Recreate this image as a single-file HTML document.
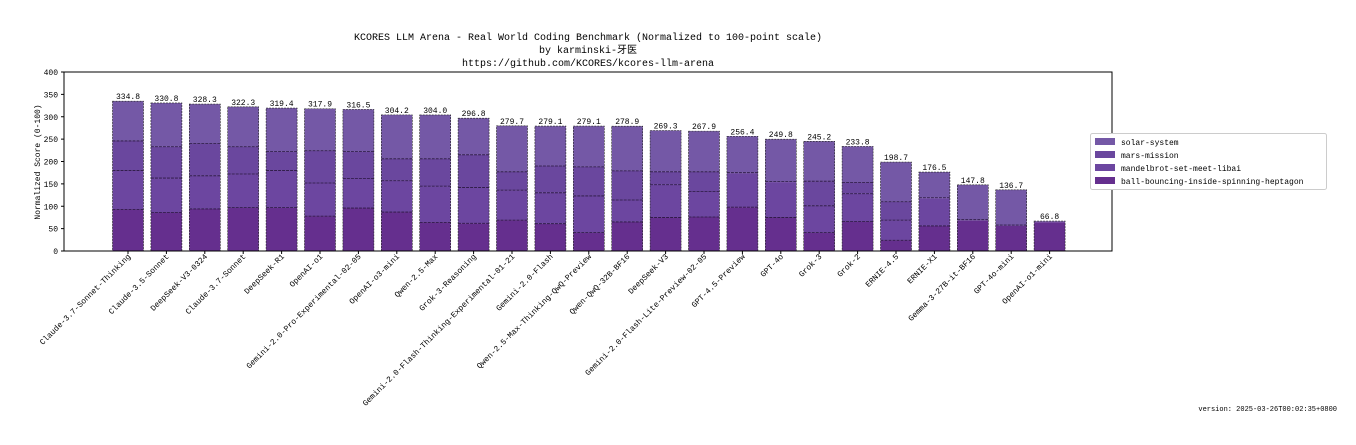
<!DOCTYPE html>
<html><head><meta charset="utf-8"><style>
html,body{margin:0;padding:0;background:#fff;width:1356px;height:445px;overflow:hidden}
svg text{font-family:"Liberation Mono","Noto Sans CJK SC",monospace;fill:#000}
</style></head><body>
<svg id="s" width="1356" height="445" xmlns="http://www.w3.org/2000/svg">
<text x="588" y="40" font-size="10" text-anchor="middle">KCORES LLM Arena - Real World Coding Benchmark (Normalized to 100-point scale)</text>
<text x="588" y="53" font-size="10" text-anchor="middle">by karminski-牙医</text>
<text x="588" y="66" font-size="10" text-anchor="middle">https://github.com/KCORES/kcores-llm-arena</text>
<text x="1337" y="411" font-size="7" text-anchor="end">version: 2025-03-26T00:02:35+0800</text>
<text transform="translate(40,162) rotate(-90)" font-size="8" text-anchor="middle">Normalized Score (0-100)</text>
<g id="g"></g>
<rect x="64" y="72" width="1048" height="179" fill="none" stroke="#000" stroke-width="1"/>
<rect x="1090.5" y="133.5" width="236" height="56" rx="2" fill="#fff" stroke="#ccc"/>
<rect x="1095" y="138" width="20" height="7" fill="#7458a6"/><text x="1121" y="145" font-size="8">solar-system</text>
<rect x="1095" y="151" width="20" height="7" fill="#6a479e"/><text x="1121" y="158" font-size="8">mars-mission</text>
<rect x="1095" y="164" width="20" height="7" fill="#6c46a0"/><text x="1121" y="171" font-size="8">mandelbrot-set-meet-libai</text>
<rect x="1095" y="177" width="20" height="7" fill="#652f8e"/><text x="1121" y="184" font-size="8">ball-bouncing-inside-spinning-heptagon</text>
</svg>
<script>
var names=["Claude-3.7-Sonnet-Thinking","Claude-3.5-Sonnet","DeepSeek-V3-0324","Claude-3.7-Sonnet","DeepSeek-R1","OpenAI-o1","Gemini-2.0-Pro-Experimental-02-05","OpenAI-o3-mini","Qwen-2.5-Max","Grok-3-Reasoning","Gemini-2.0-Flash-Thinking-Experimental-01-21","Gemini-2.0-Flash","Qwen-2.5-Max-Thinking-QwQ-Preview","Qwen-QwQ-32B-BF16","DeepSeek-V3","Gemini-2.0-Flash-Lite-Preview-02-05","GPT-4.5-Preview","GPT-4o","Grok-3","Grok-2","ERNIE-4.5","ERNIE-X1","Gemma-3-27B-it-BF16","GPT-4o-mini","OpenAI-o1-mini"];
var tot=[334.8,330.8,328.3,322.3,319.4,317.9,316.5,304.2,304.0,296.8,279.7,279.1,279.1,278.9,269.3,267.9,256.4,249.8,245.2,233.8,198.7,176.5,147.8,136.7,66.8];
var b=[[93,180,246],[86,163,233],[94,168,240],[97,172,233],[97,180,222],[78,152,224],[96,162,222],[87,157,206],[64,145,206],[62,142,215],[69,136,177],[61,130,190],[41,123,188],[65,114,179],[75,148,177],[76,133,177],[98,174,175],[75,154,155],[41,101,156],[66,128,153],[24,69,110],[56,118,119],[68,69,70],[56,57,58],[64,65,66]];
var col=["#652f8e","#6c46a0","#6a479e","#7458a6"];
var Y=function(v){return 251-v*0.4475};
var h="";
for(var t=0;t<=400;t+=50){var y=Y(t);h+='<line x1="61" x2="64" y1="'+y+'" y2="'+y+'" stroke="#000"/><text x="58" y="'+(y+3)+'" font-size="8" text-anchor="end">'+t+'</text>';}
for(var i=0;i<25;i++){var cx=128+i*38.4,x=cx-15.5,w=31;var e=[0].concat(b[i]).concat([tot[i]]);
for(var k=0;k<4;k++){var y1=Y(e[k+1]),y0=Y(e[k]);h+='<rect x="'+x+'" y="'+y1+'" width="'+w+'" height="'+(y0-y1)+'" fill="'+col[k]+'"/>';if(k>0&&e[k+1]-e[k]>2)h+='<line x1="'+x+'" x2="'+(x+w)+'" y1="'+y0+'" y2="'+y0+'" stroke="#2a1840" stroke-width="0.8" stroke-dasharray="3,1"/>';}
h+='<rect x="'+x+'" y="'+Y(tot[i])+'" width="'+w+'" height="'+(251-Y(tot[i]))+'" fill="none" stroke="#222" stroke-width="0.6" stroke-dasharray="2,1"/>';
h+='<text x="'+cx+'" y="'+(Y(tot[i])-2)+'" font-size="8" text-anchor="middle">'+tot[i].toFixed(1)+'</text>';
h+='<line x1="'+cx+'" x2="'+cx+'" y1="251" y2="254" stroke="#000"/>';
h+='<text transform="translate('+(cx+3)+',257) rotate(-45)" font-size="8" text-anchor="end">'+names[i]+'</text>';}
document.getElementById("g").innerHTML=h;
</script>
</body></html>
